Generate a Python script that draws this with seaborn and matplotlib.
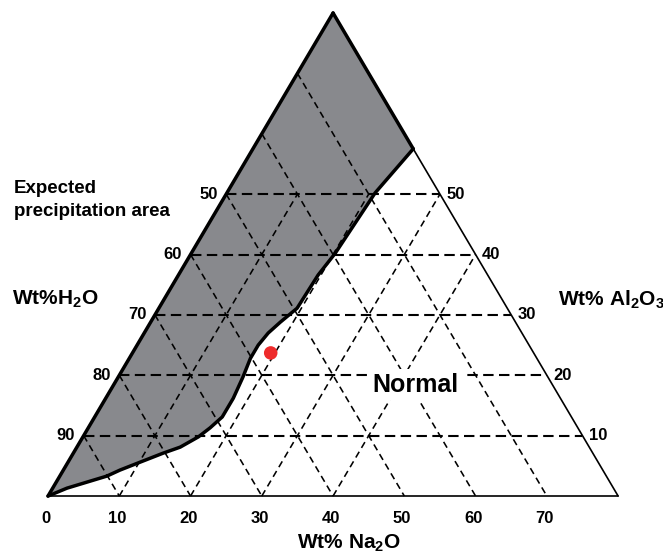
import matplotlib
matplotlib.use("Agg")
import matplotlib.pyplot as plt
import numpy as np
import pandas as pd
import seaborn as sns

sns.set_theme(style="white")
plt.rcParams["font.family"] = ["Liberation Sans", "DejaVu Sans"]
plt.rcParams["text.color"] = "black"
plt.rcParams["mathtext.fontset"] = "custom"
plt.rcParams["mathtext.rm"] = "Liberation Sans:bold"
plt.rcParams["mathtext.bf"] = "Liberation Sans:bold"
plt.rcParams["mathtext.default"] = "rm"

# diagram span: H2O from 100 (bottom-left) down to 20 (right edge)
top_al = 80
bottom_na = 80

# grid / tick values (wt%)
al_levels = [10, 20, 30, 40, 50]              # horizontal lines, Al2O3 labels
h2o_left_labels = [90, 80, 70, 60, 50]        # left edge labels at the same heights
h2o_levels = [90, 80, 70, 60, 50, 40, 30]     # lines parallel to right edge
na_levels = [10, 20, 30, 40]                  # lines parallel to left edge
na_ticks = [0, 10, 20, 30, 40, 50, 60, 70]

# boundary of the expected precipitation area (Na2O, Al2O3 wt%)
bound_na = [22.5, 20.8, 20.2, 19.6, 19.4, 18.2, 17.4, 17.0, 17.0, 17.5, 17.9,
            17.9, 17.1, 16.2, 14.5, 12.6, 10.1, 7.95, 6.6, 2.0, 0.0]
bound_al = [57.5, 50.2, 40.2, 36.6, 31.1, 28.8, 27.0, 25.0, 22.8, 19.7, 16.2,
            13.1, 11.3, 9.8, 8.1, 7.1, 5.6, 4.3, 3.3, 1.3, 0.0]

# sample point
pt_na = [19.4]
pt_al = [23.7]


def tern(na, al):
    na = np.asarray(na, dtype=float)
    al = np.asarray(al, dtype=float)
    return na + al / 2.0, al


fig = plt.figure(figsize=(6.63, 5.54), dpi=100)
ax = fig.add_axes([0, 0, 1, 1])
ax.set_xlim(-6.74, 86.3)
ax.set_ylim(-9.6, 82.15)
ax.axis("off")

# grey area: left edge -> top -> right edge -> boundary back to origin
poly_na = [0, 0] + bound_na
poly_al = [0, top_al] + bound_al
px, py = tern(poly_na, poly_al)
ax.fill(px, py, color="#88898d", zorder=1, lw=0)

# dashed grid
dash_h = dict(color="black", lw=1.5, dashes=(5, 2.6), zorder=2)
dash_d = dict(color="black", lw=1.15, dashes=(4.2, 2.8), zorder=2)
for al in al_levels:
    x, y = tern([0, top_al - al], [al, al])
    ax.plot(x, y, **dash_h)
for h in h2o_levels:
    x, y = tern([0, 100 - h], [100 - h, 0])
    ax.plot(x, y, **dash_d)
for na in na_levels:
    al_end = min(50, top_al - na)
    x, y = tern([na, na], [0, al_end])
    ax.plot(x, y, **dash_d)

# triangle outline
x, y = tern([0, bottom_na], [0, 0])
ax.plot(x, y, color="black", lw=1.2, zorder=3)
x, y = tern([bottom_na, 0], [0, top_al])
ax.plot(x, y, color="black", lw=1.2, zorder=3)
x, y = tern([0, 0], [0, top_al])
ax.plot(x, y, color="black", lw=2.5, zorder=4, solid_capstyle="round")
x, y = tern([0, bound_na[0]], [top_al, bound_al[0]])
ax.plot(x, y, color="black", lw=2.5, zorder=4, solid_capstyle="round")

bx, by = tern(bound_na, bound_al)
sns.lineplot(x=bx, y=by, sort=False, color="black", lw=2.5, ax=ax, zorder=4)

sx, sy = tern(pt_na, pt_al)
sns.scatterplot(x=sx, y=sy, color="#ee2b2b", s=95, edgecolor="none", ax=ax, zorder=5)

# tick labels
tk = dict(fontsize=12, fontweight="bold", color="black", zorder=6)
for al, lab in zip(al_levels, h2o_left_labels):
    x, y = tern(0, al)
    ax.text(x - 1.2, y, str(lab), ha="right", va="center", **tk)
for al in al_levels:
    x, y = tern(top_al - al, al)
    ax.text(x + 0.9, y, str(al), ha="left", va="center", **tk)
for na in na_ticks:
    x, y = tern(na, 0)
    ax.text(x - 0.3, y - 3.7, str(na), ha="center", va="center", **tk)

# axis titles
tt = dict(fontsize=15, fontweight="bold", color="black", zorder=6)
ax.text(1.0, 32.5, "Wt%H$_2$O", ha="center", va="center", **tt)
ax.text(71.5, 32.5, "Wt% Al$_2$O$_3$", ha="left", va="center", **tt)
ax.text(42.2, -7.9, "Wt% Na$_2$O", ha="center", va="center", **tt)
ax.text(-4.8, 49.0, "Expected\nprecipitation area", ha="left", va="center",
        fontsize=13.5, fontweight="bold", linespacing=1.45, zorder=6)
ax.text(51.5, 18.4, "Normal", ha="center", va="center", fontsize=18,
        fontweight="bold", zorder=6,
        bbox=dict(facecolor="white", edgecolor="none", pad=2.5))

fig.savefig("out.png", dpi=100)
